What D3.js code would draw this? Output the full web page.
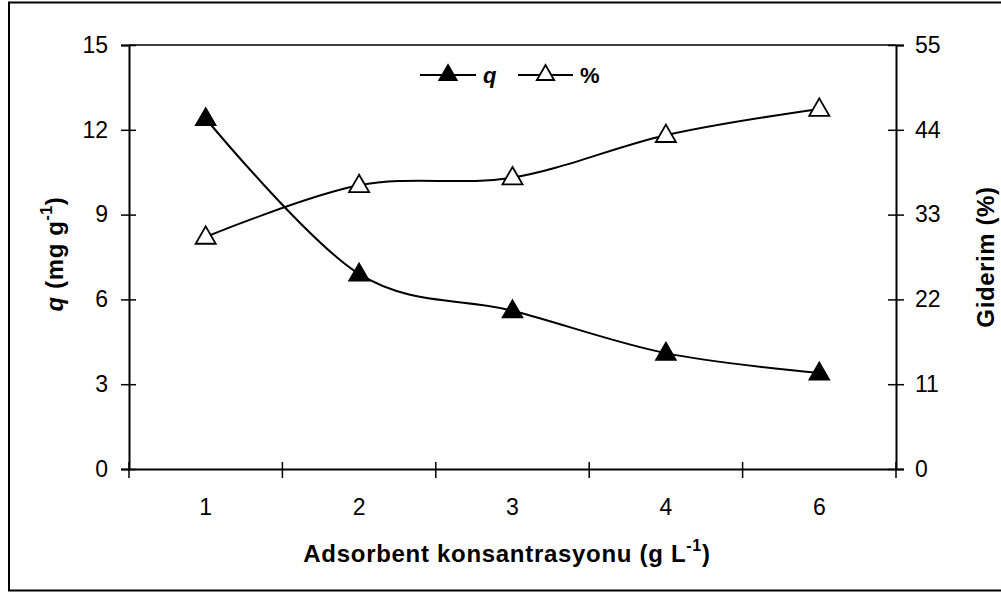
<!DOCTYPE html>
<html>
<head>
<meta charset="utf-8">
<script src="https://cdn.jsdelivr.net/npm/d3@7"></script>
<style>
  html, body { margin: 0; padding: 0; background: #fff; }
  svg { display: block; font-family: "Liberation Sans", Arial, sans-serif; }
</style>
</head>
<body>
<svg id="chart" width="1001" height="594"></svg>
<script>
// Adsorbent dose (g/L) and the two measured responses
const categories = ["1", "2", "3", "4", "6"];
const qValues = [12.4, 6.9, 5.6, 4.1, 3.4];          // q (mg g-1), left axis
const removalValues = [30.1, 36.8, 37.8, 43.3, 46.7]; // Giderim (%), right axis
const leftTicks = [0, 3, 6, 9, 12, 15];
const rightTicks = [0, 11, 22, 33, 44, 55];

const svg = d3.select("#chart");
const plot = { left: 129, right: 896, top: 45, bottom: 469 };

// outer frame
svg.append("rect")
  .attr("x", 9).attr("y", 2.5)
  .attr("width", 1000).attr("height", 588)
  .attr("fill", "none").attr("stroke", "#000").attr("stroke-width", 2);

const x = d3.scaleBand().domain(categories).range([plot.left, plot.right]).padding(0);
const yL = d3.scaleLinear().domain([0, 15]).range([plot.bottom, plot.top]);
const yR = d3.scaleLinear().domain([0, 55]).range([plot.bottom, plot.top]);
const cx = d => x(d) + x.bandwidth() / 2;

// top border of the plot area
svg.append("line")
  .attr("x1", plot.left).attr("x2", plot.right)
  .attr("y1", plot.top).attr("y2", plot.top)
  .attr("stroke", "#000").attr("stroke-width", 1.5);

function styleAxis(g, size) {
  g.select(".domain").attr("stroke", "#000").attr("stroke-width", 2);
  g.selectAll(".tick line").attr("stroke", "#000").attr("stroke-width", 1.5);
  g.selectAll(".tick text").attr("fill", "#000").attr("font-size", size);
}

// left axis with ticks crossing the line
const gL = svg.append("g").attr("transform", `translate(${plot.left},0)`)
  .call(d3.axisLeft(yL).tickValues(leftTicks).tickSizeOuter(0).tickSize(8).tickPadding(13));
styleAxis(gL, 23);
gL.selectAll(".tick line").attr("x1", -8).attr("x2", 7);

// right axis
const gR = svg.append("g").attr("transform", `translate(${plot.right},0)`)
  .call(d3.axisRight(yR).tickValues(rightTicks).tickSizeOuter(0).tickSize(8).tickPadding(11));
styleAxis(gR, 23);
gR.selectAll(".tick line").attr("x1", -8).attr("x2", 8);

// bottom axis: labels at category centres, ticks on category boundaries
const gB = svg.append("g").attr("transform", `translate(0,${plot.bottom})`)
  .call(d3.axisBottom(x).tickSize(0).tickSizeOuter(0).tickPadding(30));
styleAxis(gB, 23);
gB.selectAll(".tick line").remove();
const bounds = categories.map(c => x(c)).concat([plot.right]);
gB.selectAll("line.bound").data(bounds).enter().append("line")
  .attr("class", "bound")
  .attr("x1", d => d).attr("x2", d => d)
  .attr("y1", -7).attr("y2", 9)
  .attr("stroke", "#000").attr("stroke-width", 1.5);

// smoothed series lines
const lineQ = d3.line().x((d, i) => cx(categories[i])).y(d => yL(d)).curve(d3.curveCardinal.tension(0));
const lineR = d3.line().x((d, i) => cx(categories[i])).y(d => yR(d)).curve(d3.curveCardinal.tension(0));

svg.append("path").attr("d", lineQ(qValues))
  .attr("fill", "none").attr("stroke", "#000").attr("stroke-width", 2);
svg.append("path").attr("d", lineR(removalValues))
  .attr("fill", "none").attr("stroke", "#000").attr("stroke-width", 2);

const tri = d3.symbol().type(d3.symbolTriangle).size(175);

svg.selectAll("path.mq").data(qValues).enter().append("path")
  .attr("class", "mq")
  .attr("d", tri)
  .attr("transform", (d, i) => `translate(${cx(categories[i])},${yL(d) + 1})`)
  .attr("fill", "#000").attr("stroke", "#000").attr("stroke-width", 1.5);

svg.selectAll("path.mr").data(removalValues).enter().append("path")
  .attr("class", "mr")
  .attr("d", tri)
  .attr("transform", (d, i) => `translate(${cx(categories[i])},${yR(d) + 1})`)
  .attr("fill", "#fff").attr("stroke", "#000").attr("stroke-width", 1.8);

// legend
const legend = svg.append("g");
const legendItems = [
  { x1: 420, x2: 476, fill: "#000", label: "q", italic: true, tx: 483 },
  { x1: 518, x2: 573, fill: "#fff", label: "%", italic: false, tx: 580 }
];
legendItems.forEach(it => {
  legend.append("line").attr("x1", it.x1).attr("x2", it.x2).attr("y1", 75).attr("y2", 75)
    .attr("stroke", "#000").attr("stroke-width", 2);
  legend.append("path").attr("d", d3.symbol().type(d3.symbolTriangle).size(130))
    .attr("transform", `translate(${(it.x1 + it.x2) / 2},${75})`)
    .attr("fill", it.fill).attr("stroke", "#000").attr("stroke-width", 1.8);
  legend.append("text").attr("x", it.tx).attr("y", 83)
    .attr("font-size", 22).attr("font-weight", "bold")
    .attr("font-style", it.italic ? "italic" : "normal")
    .text(it.label);
});

// axis titles
const xTitle = svg.append("text")
  .attr("x", 507).attr("y", 562)
  .attr("text-anchor", "middle")
  .attr("font-size", 24).attr("font-weight", "bold")
  .attr("letter-spacing", 0.7);
xTitle.append("tspan").text("Adsorbent konsantrasyonu (g L");
xTitle.append("tspan").attr("dy", -11).attr("font-size", 16).text("-1");
xTitle.append("tspan").attr("dy", 11).text(")");

const yTitle = svg.append("text")
  .attr("transform", `translate(63,${(plot.top + plot.bottom) / 2 - 3}) rotate(-90)`)
  .attr("text-anchor", "middle")
  .attr("font-size", 24).attr("font-weight", "bold")
  .attr("letter-spacing", 0.6);
yTitle.append("tspan").attr("font-style", "italic").text("q");
yTitle.append("tspan").text(" (mg g");
yTitle.append("tspan").attr("dy", -11).attr("font-size", 16).text("-1");
yTitle.append("tspan").attr("dy", 11).text(")");

svg.append("text")
  .attr("transform", `translate(994,${(plot.top + plot.bottom) / 2}) rotate(-90)`)
  .attr("text-anchor", "middle")
  .attr("font-size", 24).attr("font-weight", "bold")
  .attr("letter-spacing", 0.6)
  .text("Giderim (%)");
</script>
</body>
</html>
